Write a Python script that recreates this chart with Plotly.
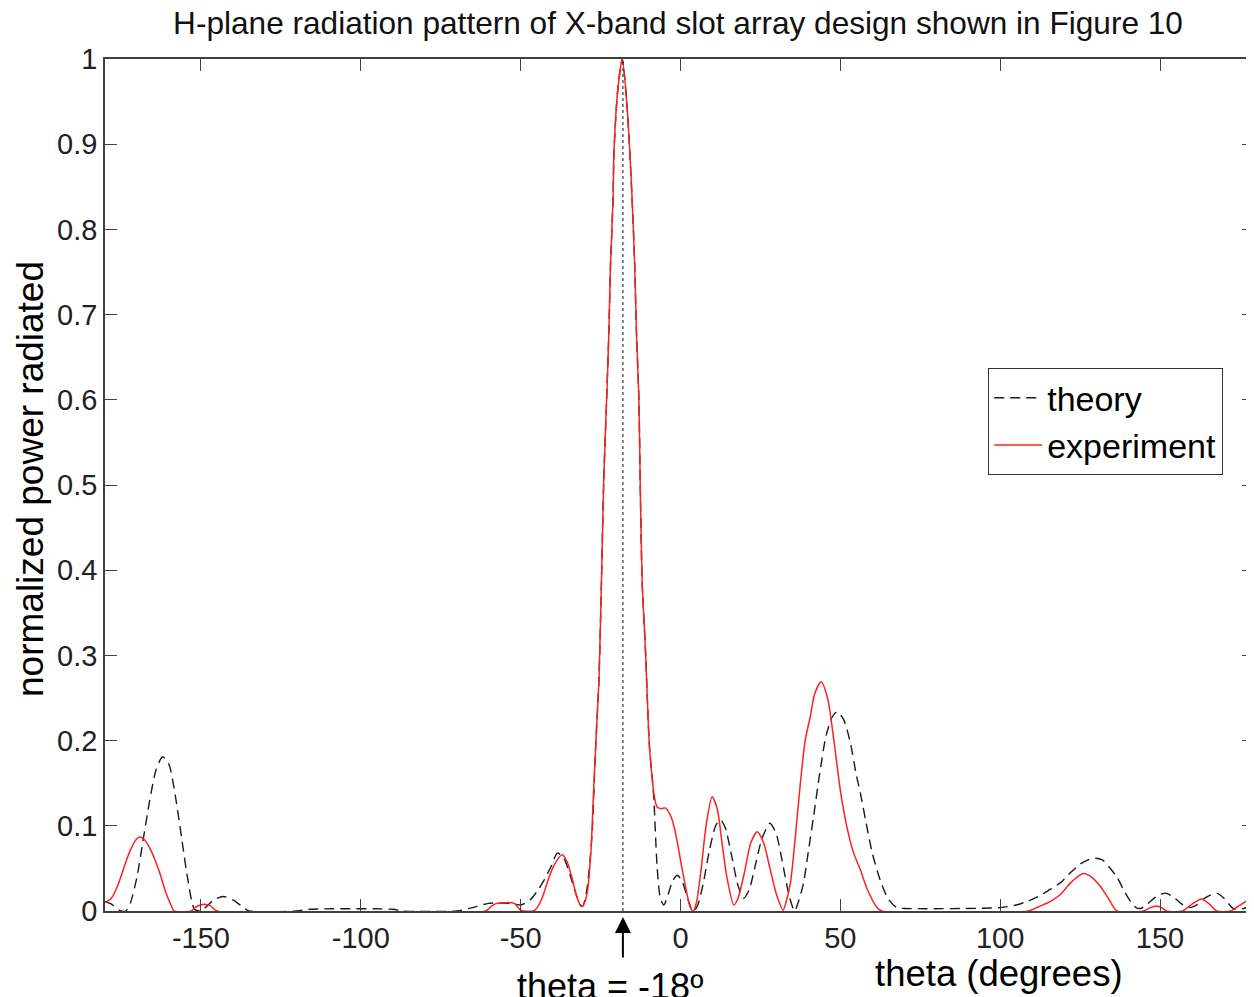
import plotly.graph_objects as go

# ---------------- data ----------------
theory_theta = [-180, -178, -176, -175, -173.5, -172, -170, -168, -166, -164, -162, -160, -158, -156,
                -154, -152, -150, -148, -146, -143, -140, -137, -135, -120, -116, -90, -87, -70, -66,
                -60, -53, -50, -47, -44.5, -42.7, -40.5, -38.5, -36.5, -34.5, -32.5, -31, -30.5, -29.5,
                -28.5, -27.5, -26.8, -26.3, -25.5, -24.7, -24, -23.1, -22.4, -21.9, -21.1, -20.8, -19.6,
                -18.2, -16.7, -15.1, -14.3, -13.75, -13, -12.6, -12, -10.9, -10.4, -9.7, -8.8, -8.3,
                -7.3, -6.3, -5.2, -3.8, -2.5, -1.0, 0.5, 2, 3.3, 4.2, 5.5, 7, 9, 11, 12.5, 14, 16, 18,
                19.8, 21.5, 23.5, 25.5, 28, 30, 32, 34, 35.7, 37, 38.5, 40, 41.6, 43.5, 45.5, 47.5, 49,
                51, 53, 55, 56.3, 58, 60, 62.5, 65, 67.7, 70, 100, 105, 108.3, 112, 115, 118.8, 122,
                125, 127.5, 129.7, 132, 134, 136.5, 139, 141, 142.5, 144, 146, 148.5, 151.6, 154, 156.5,
                159, 161, 164, 167.7, 170, 172.9, 175, 178, 180]
theory_power = [0.011, 0.008, 0.002, 0.0, 0.0, 0.01, 0.04, 0.085, 0.13, 0.166, 0.181, 0.172, 0.135, 0.085,
                0.035, 0.002, 0.0, 0.006, 0.013, 0.017, 0.013, 0.005, 0.0, 0.0, 0.002, 0.002, 0.0, 0.0, 0.003,
                0.009, 0.009, 0.007, 0.013, 0.025, 0.036, 0.052, 0.068, 0.062, 0.042, 0.018, 0.006, 0.006, 0.02,
                0.05, 0.10, 0.17, 0.21, 0.271, 0.388, 0.505, 0.60, 0.678, 0.756, 0.834, 0.89, 0.964,
                1.0, 0.944, 0.834, 0.756, 0.678, 0.60, 0.505, 0.388, 0.303, 0.252, 0.193, 0.154, 0.13,
                0.052, 0.015, 0.007, 0.02, 0.035, 0.042, 0.035, 0.018, 0.004, 0.0, 0.008, 0.03, 0.07, 0.1, 0.107, 0.098, 0.065, 0.03,
                0.015, 0.025, 0.055, 0.085, 0.103, 0.09, 0.055, 0.018, 0.0, 0.012, 0.033, 0.07, 0.11, 0.16, 0.205, 0.228, 0.234,
                0.225, 0.2, 0.16, 0.138, 0.105, 0.068, 0.036, 0.014, 0.004, 0.003, 0.004, 0.007, 0.011, 0.017, 0.024, 0.033, 0.045,
                0.055, 0.06, 0.062, 0.06, 0.052, 0.04, 0.022, 0.01, 0.004, 0.003, 0.008, 0.016, 0.021, 0.017, 0.009,
                0.004, 0.006, 0.015, 0.021, 0.015, 0.003, 0.002, 0.005, 0.006]

experiment_theta = [-180, -178, -176, -174, -172, -170, -169, -167.5, -165.5, -163, -161, -159, -158.4, -153,
                    -151.5, -149, -147, -145, -61, -59, -57.3, -52, -50, -46, -44.8, -43, -41.7, -39.5, -37,
                    -35.5, -34, -32.5, -31.2, -30.5, -29.2, -28, -27.3, -26.8, -26.3, -25.5, -24.7, -24, -23.1,
                    -22.4, -21.9, -21.1, -20.8, -19.6, -18.2, -16.7, -15.1, -14.3, -13.75, -13, -12.6, -12,
                    -10.9, -10.4, -9.7, -8.8, -8.2, -7.3, -6, -4.7, -3.5, -2.6, -1.2, 0, 1.5, 3.1, 4, 5, 6.5,
                    8, 9.9, 11.5, 13, 14.5, 16.7, 18, 20, 22, 24, 26, 28, 30, 32.1, 33, 34.4, 36, 37.5, 39,
                    40.6, 42, 44, 46, 48, 50, 52, 54, 56.3, 58.5, 61.5, 63, 108.8, 112, 115.6, 119, 122, 126,
                    128.5, 131.3, 134, 136.5, 144.8, 147, 149, 150.5, 152, 157, 160, 163, 165.5, 167.7, 172,
                    175, 178, 180]
experiment_power = [0.01, 0.015, 0.03, 0.052, 0.072, 0.085, 0.087, 0.083, 0.07, 0.046, 0.022, 0.004, 0.0, 0.0,
                    0.005, 0.008, 0.006, 0.0, 0.0, 0.006, 0.009, 0.009, 0.001, 0.0, 0.004, 0.018, 0.033, 0.054, 0.066,
                    0.058, 0.04, 0.018, 0.006, 0.006, 0.021, 0.07, 0.13, 0.17, 0.21, 0.271, 0.388, 0.505, 0.60,
                    0.678, 0.756, 0.834, 0.89, 0.964, 1.0, 0.944, 0.834, 0.756, 0.678, 0.60, 0.505, 0.388,
                    0.303, 0.252, 0.193, 0.154, 0.135, 0.122, 0.12, 0.121, 0.115, 0.107, 0.085, 0.06, 0.03, 0.004, 0.0, 0.01, 0.05,
                    0.1, 0.134, 0.12, 0.08, 0.04, 0.007, 0.015, 0.045, 0.08, 0.093, 0.08, 0.05, 0.02, 0.001, 0.01, 0.033, 0.09, 0.15, 0.2,
                    0.228, 0.255, 0.269, 0.25, 0.2, 0.142, 0.1, 0.07, 0.048, 0.025, 0.004, 0.0, 0.0, 0.005, 0.011, 0.02, 0.033, 0.044,
                    0.04, 0.029, 0.014, 0.0, 0.0, 0.004, 0.006, 0.004, 0.0, 0.0, 0.008, 0.014, 0.008, 0.0, 0.0,
                    0.007, 0.013, 0.01]

beam_angle = -18
x_ticks = [-150, -100, -50, 0, 50, 100, 150]
x_tick_labels = ["-150", "-100", "-50", "0", "50", "100", "150"]
y_ticks = [0, 0.1, 0.2, 0.3, 0.4, 0.5, 0.6, 0.7, 0.8, 0.9, 1]
y_tick_labels = ["0", "0.1", "0.2", "0.3", "0.4", "0.5", "0.6", "0.7", "0.8", "0.9", "1"]

# ---------------- figure ----------------
FONT = "Liberation Sans, Arial, sans-serif"
PAGE_OFF = 8                      # default body margin of the html page
W, H = 1254 - PAGE_OFF, 997 - PAGE_OFF
# plot area in page pixels: left 105, top 59, bottom 911
ML = 105 - PAGE_OFF
MT = 59 - PAGE_OFF
MB = H - (911 - PAGE_OFF)
MR = 0
plot_h = H - MT - MB
plot_w = W - ML - MR


def py_to_paper(py):
    """page pixel row -> paper y"""
    return (H - MB - (py - PAGE_OFF)) / plot_h


def px_to_paper(px):
    """page pixel column -> paper x"""
    return (px - PAGE_OFF - ML) / plot_w


fig = go.Figure()
fig.add_trace(go.Scatter(
    x=theory_theta, y=theory_power, mode="lines", name="theory",
    line=dict(color="#1a1a1a", width=1.4, dash="10px,6px", shape="spline", smoothing=0.7),
))
fig.add_trace(go.Scatter(
    x=experiment_theta, y=experiment_power, mode="lines", name="experiment",
    line=dict(color="#ff2020", width=1.5, shape="spline", smoothing=0.7),
))

# dotted line marking the beam angle
fig.add_shape(type="line", xref="x", yref="y", x0=beam_angle, x1=beam_angle, y0=0, y1=1,
              line=dict(color="#333333", width=1.2, dash="dot"))

# arrow below the axis
fig.add_annotation(x=beam_angle, xref="x", y=py_to_paper(917), yref="paper",
                   text="", showarrow=True, ax=0, ay=42, arrowhead=2, arrowsize=1.6,
                   arrowwidth=2, arrowcolor="#000000")
fig.add_annotation(x=px_to_paper(610), xref="paper", y=py_to_paper(964), yref="paper",
                   text="theta = -18º", showarrow=False, xanchor="center", yanchor="top",
                   font=dict(family=FONT, size=36, color="#000000"))
fig.add_annotation(x=px_to_paper(999), xref="paper", y=py_to_paper(951), yref="paper",
                   text="theta (degrees)", showarrow=False, xanchor="center", yanchor="top",
                   font=dict(family=FONT, size=36.5, color="#000000"))
fig.add_annotation(x=px_to_paper(30), xref="paper", y=py_to_paper(479), yref="paper",
                   text="normalized power radiated", showarrow=False, xanchor="center", yanchor="middle",
                   textangle=-90, font=dict(family=FONT, size=37, color="#000000"))

axis_common = dict(
    showline=True, linecolor="#404040", linewidth=1.5, mirror="ticks",
    ticks="inside", ticklen=12, tickwidth=1.3, tickcolor="#404040",
    showgrid=False, zeroline=False, automargin=False,
    tickfont=dict(family=FONT, size=29, color="#222222"),
)

fig.update_layout(
    width=W, height=H,
    margin=dict(l=ML, r=MR, t=MT, b=MB, autoexpand=False),
    paper_bgcolor="white", plot_bgcolor="white",
    title=dict(text="H-plane radiation pattern of X-band slot array design shown in Figure 10",
               x=(678 - PAGE_OFF) / W, xanchor="center", y=1 - (23 - PAGE_OFF) / H, yanchor="middle",
               automargin=False, font=dict(family=FONT, size=31.6, color="#111111")),
    xaxis=dict(range=[-180, 179.4], tickvals=x_ticks, ticktext=x_tick_labels,
               ticklabelstandoff=0, **axis_common),
    yaxis=dict(range=[0, 1], tickvals=y_ticks, ticktext=y_tick_labels,
               ticklabelstandoff=0, **axis_common),
    legend=dict(x=px_to_paper(988), y=py_to_paper(368), xanchor="left", yanchor="top",
                bgcolor="white", bordercolor="#333333", borderwidth=1.2,
                font=dict(family=FONT, size=34, color="#000000"),
                tracegroupgap=0, itemwidth=48),
    showlegend=True,
)

fig.write_html("out.html")
